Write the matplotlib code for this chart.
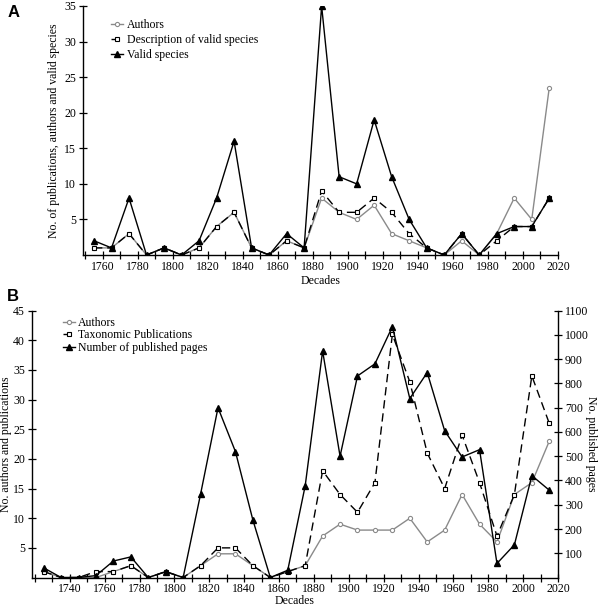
import numpy as np
import matplotlib
matplotlib.use("Agg")
import matplotlib.pyplot as plt
from matplotlib.ticker import MultipleLocator, FixedLocator

plt.rcParams['font.family'] = ['Liberation Serif', 'DejaVu Serif']
FS = 8.5
plt.rcParams['font.size'] = FS

# ---- panel A data (decade midpoints) ----
decades_a = list(range(1755, 2016, 10))
authors_a = [1, 1, 3, 0, 1, 0, 1, 4, 6, 1, 0, 2, 1, 8, 6, 5, 7, 3, 2, 1, 0, 2, 0, 3, 8, 5, 23.5]
descr_a = [1, 1, 3, 0, 1, 0, 1, 4, 6, 1, 0, 2, 1, 9, 6, 6, 8, 6, 3, 1, 0, 3, 0, 2, 4, 4, 8]
valid_a = [2, 1, 8, 0, 1, 0, 2, 8, 16, 1, 0, 3, 1, 35, 11, 10, 19, 11, 5, 1, 0, 3, 0, 3, 4, 4, 8]

# ---- panel B data ----
decades_b = list(range(1725, 2016, 10))
authors_b = [1, 0, 0, 0, 1, 2, 0, 1, 0, 2, 4, 4, 2, 0, 1, 2,
             7, 9, 8, 8, 8, 10, 6, 8, 14, 9, 6, 14, 16, 23]
pubs_b = [1, 0, 0, 1, 1, 2, 0, 1, 0, 2, 5, 5, 2, 0, 1, 2,
          18, 14, 11, 16, 41, 33, 21, 15, 24, 16, 7, 14, 34, 26]
pages_b = [40, 0, 0, 8, 68, 85, 0, 24, 0, 344, 700, 519, 237, 0, 30, 378,
           934, 500, 831, 881, 1034, 738, 845, 605, 497, 527, 58, 135, 420, 360]

GRAY = '#8a8a8a'
DASH = (0, (6, 3.5))
LW = 1.0
MS = 3.0
MT = 3.8


def style_axis(ax, xmin):
    ax.set_xlim(xmin, 2020)
    ax.xaxis.set_major_locator(FixedLocator(list(range(1740 if xmin < 1740 else 1760, 2021, 20))))
    ax.xaxis.set_minor_locator(MultipleLocator(10))
    ax.tick_params(which='both', direction='inout', length=6, width=0.9, labelsize=FS, pad=2)
    ax.tick_params(axis='x', which='both', pad=1)
    ax.spines['top'].set_visible(False)
    ax.spines['right'].set_visible(False)
    for s in ('left', 'bottom'):
        ax.spines[s].set_linewidth(1.0)


fig = plt.figure(figsize=(6, 6.06), dpi=100)

# ================= Panel A =================
axA = fig.add_axes([0.1383, 0.5792, 0.7917, 0.4109])
la, = axA.plot(decades_a, authors_a, color=GRAY, lw=LW, marker='o', ms=MS,
               mfc='white', mec=GRAY, mew=0.8, zorder=2)
ld, = axA.plot(decades_a, descr_a, color='black', lw=LW, ls=DASH, marker='s', ms=MS,
               mfc='white', mec='black', mew=0.8, zorder=3)
lv, = axA.plot(decades_a, valid_a, color='black', lw=LW, marker='^', ms=MT,
               mfc='black', mec='black', zorder=4)
style_axis(axA, 1748.7)
axA.set_ylim(0, 35)
axA.yaxis.set_major_locator(FixedLocator([5, 10, 15, 20, 25, 30, 35]))
axA.set_ylabel('No. of publications, authors and valid species', fontsize=FS, labelpad=3)
axA.set_xlabel('Decades', fontsize=FS, labelpad=2)
axA.legend([la, ld, lv], ['Authors', 'Description of valid species', 'Valid species'],
           loc='upper left', bbox_to_anchor=(0.05, 0.965), frameon=False,
           handlelength=1.0, handletextpad=0.3, labelspacing=0.25, borderaxespad=0,
           fontsize=FS)

# ================= Panel B =================
axB = fig.add_axes([0.0533, 0.047, 0.8767, 0.4403])
lb1, = axB.plot(decades_b, authors_b, color=GRAY, lw=LW, marker='o', ms=MS,
                mfc='white', mec=GRAY, mew=0.8, zorder=2)
lb2, = axB.plot(decades_b, pubs_b, color='black', lw=LW, ls=DASH, marker='s', ms=MS,
                mfc='white', mec='black', mew=0.8, zorder=3)
style_axis(axB, 1718.3)
axB.set_ylim(0, 45)
axB.yaxis.set_major_locator(FixedLocator(list(range(5, 46, 5))))
axB.set_ylabel('No. authors and publications', fontsize=FS, labelpad=1)
axB.set_xlabel('Decades', fontsize=FS, labelpad=0)

axB2 = axB.twinx()
lb3, = axB2.plot(decades_b, pages_b, color='black', lw=LW, marker='^', ms=MT,
                 mfc='black', mec='black', zorder=4)
axB2.set_ylim(0, 1100)
axB2.yaxis.set_major_locator(FixedLocator(list(range(100, 1101, 100))))
axB2.tick_params(direction='inout', length=6, width=0.9, labelsize=FS, pad=2)
axB2.spines['top'].set_visible(False)
axB2.spines['left'].set_visible(False)
axB2.spines['bottom'].set_visible(False)
axB2.spines['right'].set_linewidth(1.0)
axB2.set_ylabel('No. published pages', fontsize=FS, rotation=270, labelpad=6)
axB2.legend([lb1, lb2, lb3], ['Authors', 'Taxonomic Publications', 'Number of published pages'],
            loc='upper left', bbox_to_anchor=(0.05, 0.995), frameon=False,
            handlelength=1.0, handletextpad=0.3, labelspacing=0.05, borderaxespad=0,
            fontsize=FS)

fig.text(0.012, 0.992, 'A', fontsize=12, fontweight='bold', family='Liberation Sans', va='top')
fig.text(0.012, 0.523, 'B', fontsize=12, fontweight='bold', family='Liberation Sans', va='top')

fig.savefig('out.png', dpi=100)
